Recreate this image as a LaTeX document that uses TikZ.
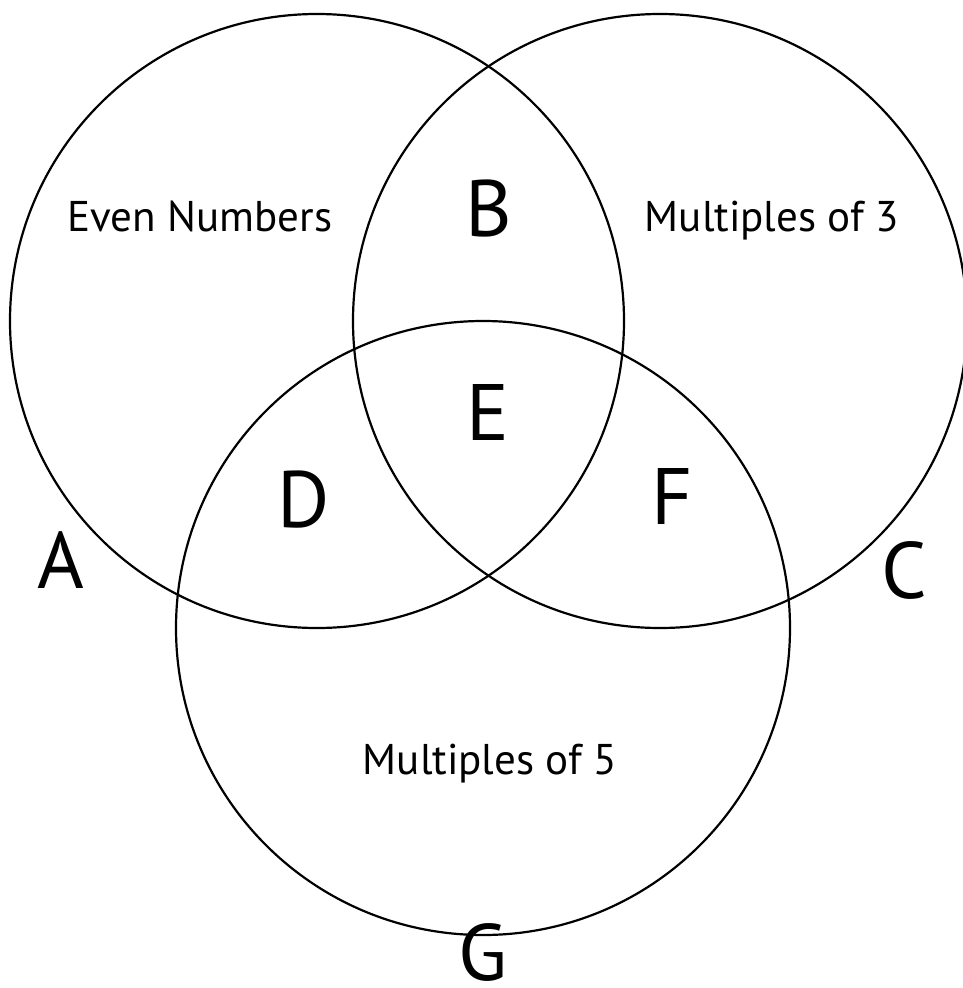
\documentclass[tikz,border=0pt]{standalone}
\usepackage{fontspec}
\setmainfont{PT Sans}
\begin{document}
\begin{tikzpicture}[x=1pt,y=-1pt,
  setcircle/.style={circle,draw=black,line width=2.2pt,minimum size=614pt,inner sep=0pt},
  regionlabel/.style={anchor=base,inner sep=0pt,font=\fontsize{80}{80}\selectfont},
  setname/.style={anchor=base,inner sep=0pt,font=\fontsize{43}{43}\selectfont}]
\useasboundingbox (0,0) rectangle (963,988);
\node[setcircle] (cA) at (317,321) {};
\node[setcircle] (cC) at (660,321) {};
\node[setcircle] (cG) at (483,628) {};
\node[setname] (even) at (200,231) {Even Numbers};
\node[setname] (m3) at (772,231) {Multiples of 3};
\node[setname] (m5) at (490,774) {Multiples of 5};
\node[regionlabel] (lB) at (489,236) {B};
\node[regionlabel] (lE) at (488,440) {E};
\node[regionlabel] (lD) at (304,527) {D};
\node[regionlabel] (lF) at (672,524) {F};
\node[regionlabel] (lA) at (61,588) {A};
\node[regionlabel] (lC) at (904,598) {C};
\node[regionlabel,text depth=0pt] (lG) at (483,980) {G};
\end{tikzpicture}
\end{document}
